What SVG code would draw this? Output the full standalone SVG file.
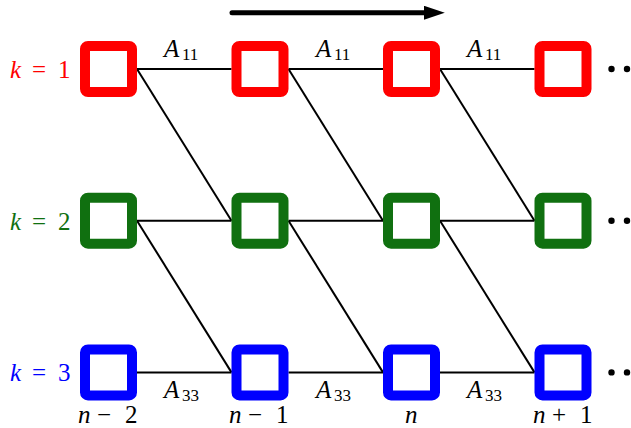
<svg xmlns="http://www.w3.org/2000/svg" width="631" height="428" viewBox="0 0 631 428">
<style>
.box{fill:#fff;stroke-width:10;stroke-linejoin:round}
.r{stroke:#ff0000}.g{stroke:#107010}.b{stroke:#0000ff}
.ln{stroke:#000;stroke-width:2;fill:none}
.dot{fill:#000}
</style>
<defs>
<marker id="ah" viewBox="0 0 10 10" refX="2" refY="5" markerWidth="4.2" markerHeight="2.8" markerUnits="strokeWidth" orient="auto" preserveAspectRatio="none">
<path d="M0,0 L10,5 L0,10 z" fill="#000"/>
</marker>
</defs>
<rect width="631" height="428" fill="#fff"/>
<g id="time-arrow">
<line x1="232" y1="12.7" x2="428" y2="12.7" stroke="#000" stroke-width="5" stroke-linecap="round" marker-end="url(#ah)"/>
</g>
<g id="connectors" class="ln">
<line x1="137" y1="69" x2="231.5" y2="69"/>
<line x1="288.5" y1="69" x2="383" y2="69"/>
<line x1="440" y1="69" x2="534.5" y2="69"/>
<line x1="137" y1="220.7" x2="231.5" y2="220.7"/>
<line x1="288.5" y1="220.7" x2="383" y2="220.7"/>
<line x1="440" y1="220.7" x2="534.5" y2="220.7"/>
<line x1="137" y1="372.4" x2="231.5" y2="372.4"/>
<line x1="288.5" y1="372.4" x2="383" y2="372.4"/>
<line x1="440" y1="372.4" x2="534.5" y2="372.4"/>
<line x1="137" y1="69" x2="231.5" y2="220.7"/>
<line x1="288.5" y1="69" x2="383" y2="220.7"/>
<line x1="440" y1="69" x2="534.5" y2="220.7"/>
<line x1="137" y1="220.7" x2="231.5" y2="372.4"/>
<line x1="288.5" y1="220.7" x2="383" y2="372.4"/>
<line x1="440" y1="220.7" x2="534.5" y2="372.4"/>
</g>
<g id="node-1-1"><rect class="box r" x="85" y="46" width="47" height="46" rx="3"/></g>
<g id="node-1-2"><rect class="box r" x="236.5" y="46" width="47" height="46" rx="3"/></g>
<g id="node-1-3"><rect class="box r" x="388" y="46" width="47" height="46" rx="3"/></g>
<g id="node-1-4"><rect class="box r" x="539.5" y="46" width="47" height="46" rx="3"/></g>
<g id="node-2-1"><rect class="box g" x="85" y="197.7" width="47" height="46" rx="3"/></g>
<g id="node-2-2"><rect class="box g" x="236.5" y="197.7" width="47" height="46" rx="3"/></g>
<g id="node-2-3"><rect class="box g" x="388" y="197.7" width="47" height="46" rx="3"/></g>
<g id="node-2-4"><rect class="box g" x="539.5" y="197.7" width="47" height="46" rx="3"/></g>
<g id="node-3-1"><rect class="box b" x="85" y="349.4" width="47" height="46" rx="3"/></g>
<g id="node-3-2"><rect class="box b" x="236.5" y="349.4" width="47" height="46" rx="3"/></g>
<g id="node-3-3"><rect class="box b" x="388" y="349.4" width="47" height="46" rx="3"/></g>
<g id="node-3-4"><rect class="box b" x="539.5" y="349.4" width="47" height="46" rx="3"/></g>
<g id="dots">
<circle class="dot" cx="611.5" cy="69" r="3.2"/><circle class="dot" cx="627" cy="69" r="3.2"/>
<circle class="dot" cx="611.5" cy="220.7" r="3.2"/><circle class="dot" cx="627" cy="220.7" r="3.2"/>
<circle class="dot" cx="611.5" cy="372.4" r="3.2"/><circle class="dot" cx="627" cy="372.4" r="3.2"/>
</g>
<g font-family="'Liberation Serif', 'DejaVu Serif', serif" font-size="25">
<g id="row-labels">
<text fill="#ff0000" y="78"><tspan font-style="italic" x="10">k</tspan><tspan x="32">=</tspan><tspan x="58">1</tspan></text>
<text fill="#107010" y="229.7"><tspan font-style="italic" x="10">k</tspan><tspan x="32">=</tspan><tspan x="58">2</tspan></text>
<text fill="#0000ff" y="381.4"><tspan font-style="italic" x="10">k</tspan><tspan x="32">=</tspan><tspan x="58">3</tspan></text>
</g>
<g id="edge-labels" fill="#000">
<text y="57"><tspan font-style="italic" x="164">A</tspan><tspan font-size="17" x="182" dy="3">11</tspan></text>
<text y="57"><tspan font-style="italic" x="316">A</tspan><tspan font-size="17" x="334" dy="3">11</tspan></text>
<text y="57"><tspan font-style="italic" x="467">A</tspan><tspan font-size="17" x="485" dy="3">11</tspan></text>
<text y="398"><tspan font-style="italic" x="164">A</tspan><tspan font-size="17" x="182" dy="3">33</tspan></text>
<text y="398"><tspan font-style="italic" x="316">A</tspan><tspan font-size="17" x="334" dy="3">33</tspan></text>
<text y="398"><tspan font-style="italic" x="467">A</tspan><tspan font-size="17" x="485" dy="3">33</tspan></text>
</g>
<g id="column-labels" fill="#000">
<text y="423"><tspan font-style="italic" x="78">n</tspan><tspan x="97">−</tspan><tspan x="125">2</tspan></text>
<text y="423"><tspan font-style="italic" x="229">n</tspan><tspan x="248">−</tspan><tspan x="276">1</tspan></text>
<text y="423"><tspan font-style="italic" x="405">n</tspan></text>
<text y="423"><tspan font-style="italic" x="533">n</tspan><tspan x="552">+</tspan><tspan x="580">1</tspan></text>
</g>
</g>
</svg>
